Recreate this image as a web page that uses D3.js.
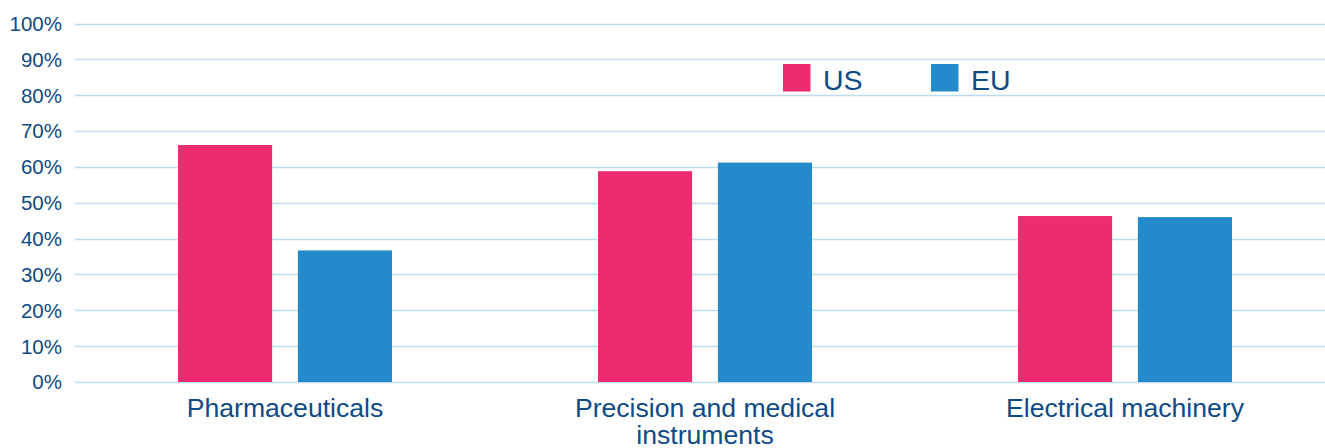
<!DOCTYPE html>
<html><head><meta charset="utf-8">
<script src="https://cdn.jsdelivr.net/npm/d3@7"></script>
<style>html,body{margin:0;padding:0;background:#fff;overflow:hidden}</style>
</head><body>
<svg id="chart" width="1325" height="448"></svg>
<script>
const categories = [["Pharmaceuticals"], ["Precision and medical", "instruments"], ["Electrical machinery"]];
const seriesNames = ["US", "EU"];
const usValues = [66.1, 58.8, 46.3];
const euValues = [36.7, 61.2, 46.0];
const yTicks = [0, 10, 20, 30, 40, 50, 60, 70, 80, 90, 100];
const colors = ["#EE2A70", "#238BCC"];

(function () {
const svg = d3.select("#chart");
const font = "Liberation Sans, Arial, sans-serif";
const textColor = "#0E4A85";
const mLeft = 75, mRight = 1335, mTop = 23.5, mBottom = 382;

const x = d3.scaleBand().domain(d3.range(categories.length)).range([mLeft, mRight]).paddingInner(0).paddingOuter(0);
const y = d3.scaleLinear().domain([0, 100]).range([mBottom, mTop]);
const groupW = 214;
const xs = d3.scaleBand().domain(seriesNames).range([0, groupW]).paddingInner(0.215).paddingOuter(0);

// gridlines
svg.append("g").selectAll("line").data(yTicks).join("line")
  .attr("x1", mLeft).attr("x2", 1325)
  .attr("y1", d => Math.round(y(d)) + 0.5).attr("y2", d => Math.round(y(d)) + 0.5)
  .attr("stroke", "#BDDCEE").attr("stroke-width", 1.3);

// y labels
svg.append("g").selectAll("text").data(yTicks).join("text")
  .attr("x", 62).attr("y", d => y(d)).attr("dy", "0.36em")
  .attr("text-anchor", "end").attr("font-family", font).attr("font-size", 20.5)
  .attr("fill", textColor).text(d => d + "%");

// bars
const data = categories.map((c, i) => ({i, vals: [usValues[i], euValues[i]]}));
const g = svg.append("g").selectAll("g").data(data).join("g")
  .attr("transform", d => `translate(${x(d.i) + (x.bandwidth() - groupW) / 2},0)`);
g.selectAll("rect").data(d => d.vals.map((v, k) => ({v, k}))).join("rect")
  .attr("x", d => xs(seriesNames[d.k])).attr("width", xs.bandwidth())
  .attr("y", d => y(d.v)).attr("height", d => y(0) - y(d.v))
  .attr("fill", d => colors[d.k]);

// category labels
const lab = svg.append("g").selectAll("text").data(categories).join("text")
  .attr("text-anchor", "middle").attr("font-family", font).attr("font-size", 26.6)
  .attr("fill", textColor);
lab.each(function(lines, i) {
  const t = d3.select(this);
  lines.forEach((l, j) => {
    t.append("tspan").attr("x", x(i) + x.bandwidth() / 2).attr("y", 417 + j * 27).text(l);
  });
});

// legend
const legX = [783, 931];
const leg = svg.append("g").selectAll("g").data(seriesNames).join("g")
  .attr("transform", (d, i) => `translate(${legX[i]},64)`);
leg.append("rect").attr("width", 27.5).attr("height", 27.5).attr("fill", (d, i) => colors[i]);
leg.append("text").attr("x", 40).attr("y", 26).attr("font-family", font).attr("font-size", 28.5)
  .attr("fill", textColor).text(d => d);
})();
</script>
</body></html>
